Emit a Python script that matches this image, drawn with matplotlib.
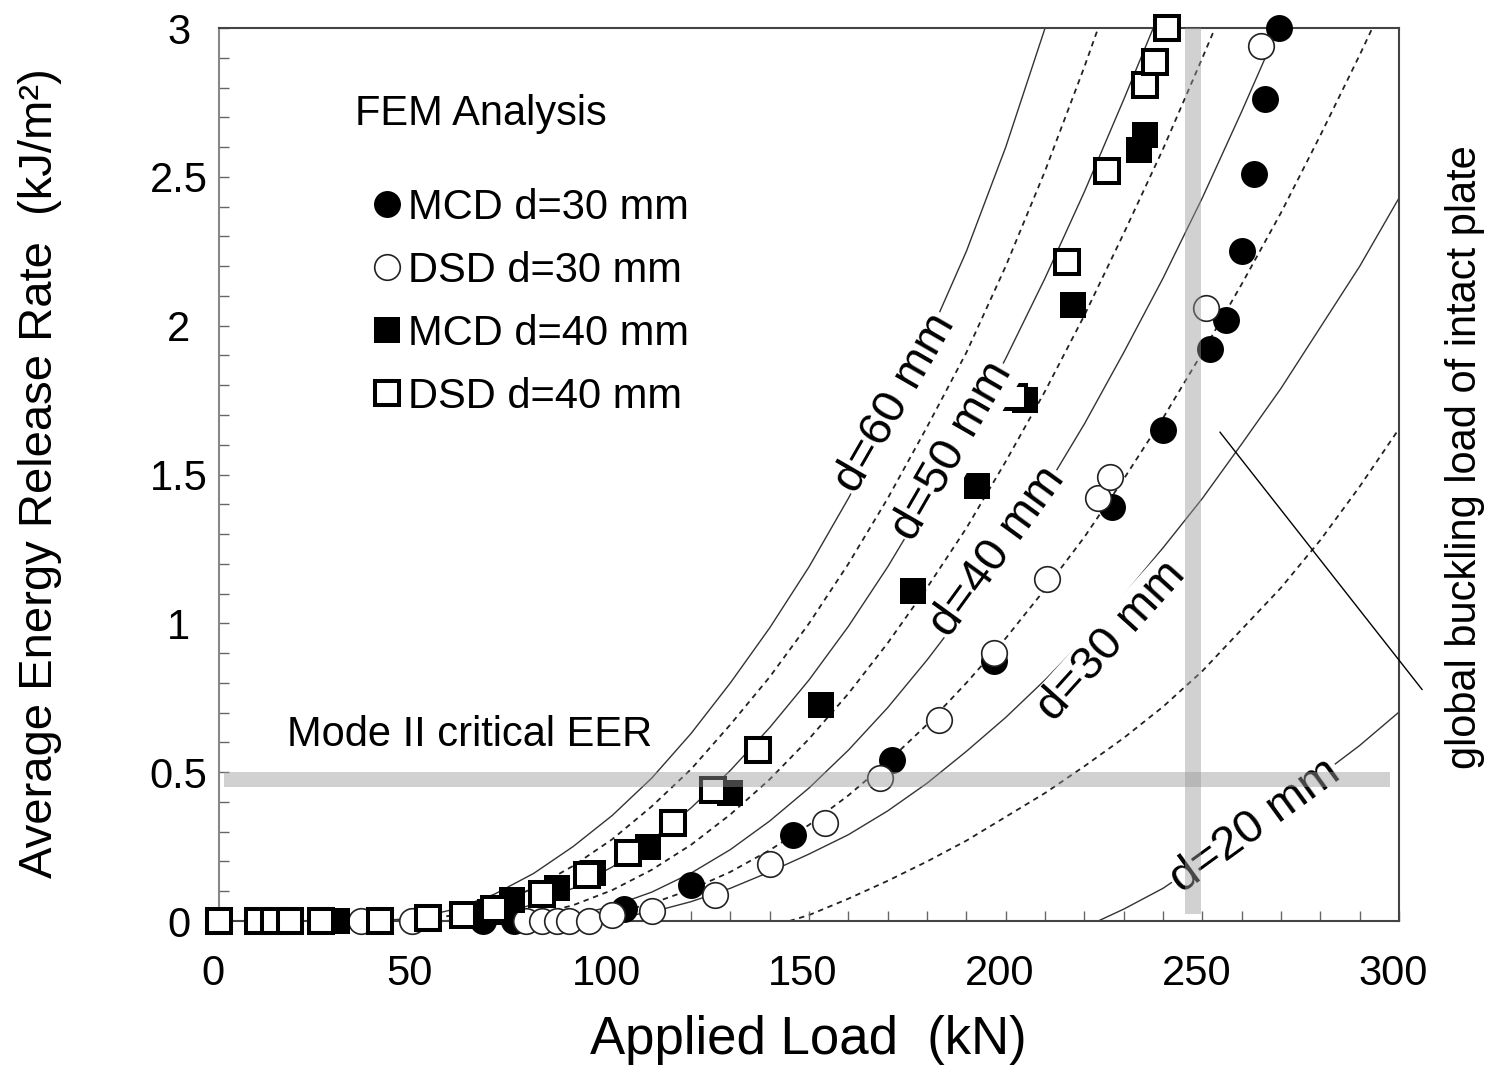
import matplotlib
matplotlib.use('Agg')
import matplotlib.pyplot as plt
import matplotlib.transforms as mtransforms
from matplotlib.lines import Line2D
from matplotlib.ticker import MultipleLocator

plt.rcParams['font.family'] = ['Liberation Sans', 'DejaVu Sans']

# FEM results: applied load (kN) vs average energy release rate (kJ/m2)
mcd30_load = [67, 75, 103, 120, 146, 171, 197, 227, 240, 252, 256, 260, 263, 266, 269.5]
mcd30_eer = [0, 0, 0.04, 0.12, 0.29, 0.54, 0.875, 1.39, 1.65, 1.92, 2.02, 2.25, 2.51, 2.76, 3.0]

dsd30_load = [36, 49, 78, 82, 86, 89, 94, 100, 110, 126, 140, 154, 168, 183, 197,
              210.5, 223.5, 226.5, 251, 265]
dsd30_eer = [0, 0, 0, 0, 0, 0, 0, 0.02, 0.035, 0.086, 0.19, 0.33, 0.48, 0.674, 0.90,
             1.15, 1.42, 1.49, 2.06, 2.94]

mcd40_load = [30, 69, 74.5, 86, 95, 109, 130, 153, 176.5, 192.7, 205, 217, 234, 235.5]
mcd40_eer = [0, 0.03, 0.07, 0.11, 0.16, 0.25, 0.43, 0.725, 1.11, 1.46, 1.75, 2.07, 2.59, 2.64]

dsd40_load = [0, 10, 14, 18, 26, 41, 53, 62, 70, 82, 93.6, 104, 115.3, 125.6, 137,
              202, 215.6, 225.8, 235.4, 238, 241]
dsd40_eer = [0, 0, 0, 0, 0, 0, 0.01, 0.02, 0.04, 0.09, 0.153, 0.227, 0.33, 0.44, 0.574,
             1.76, 2.215, 2.52, 2.81, 2.885, 3.0]

# analytical curves for delamination diameter d
d60_load = [40, 50, 60, 70, 80, 90, 100, 110, 120, 130, 140, 150, 160, 170, 180, 190, 200, 210]
d60_eer = [0, 0.01, 0.04, 0.09, 0.16, 0.25, 0.355, 0.48, 0.63, 0.80, 0.985, 1.19, 1.42,
           1.67, 1.95, 2.25, 2.6, 3.0]
d55_load = [45, 50, 60, 70, 80, 90, 100, 110, 120, 130, 140, 150, 160, 170, 180, 190, 200,
            210, 220, 223.5]
d55_eer = [0, 0.002, 0.02, 0.057, 0.11, 0.185, 0.275, 0.385, 0.51, 0.66, 0.82, 1.0, 1.2,
           1.42, 1.66, 1.91, 2.2, 2.52, 2.87, 3.0]
d50_load = [55, 60, 70, 80, 90, 100, 110, 120, 130, 140, 150, 160, 170, 180, 190, 200, 210,
            220, 230, 237.5]
d50_eer = [0, 0.002, 0.02, 0.056, 0.11, 0.182, 0.272, 0.38, 0.506, 0.65, 0.81, 0.99, 1.19,
           1.41, 1.64, 1.89, 2.16, 2.45, 2.76, 3.0]
d45_load = [65, 70, 80, 90, 100, 110, 120, 130, 140, 150, 160, 170, 180, 190, 200, 210, 220,
            230, 240, 250, 253.2]
d45_eer = [0, 0.002, 0.019, 0.053, 0.104, 0.172, 0.256, 0.358, 0.476, 0.612, 0.764, 0.934,
           1.12, 1.32, 1.544, 1.78, 2.035, 2.31, 2.594, 2.9, 3.0]
d40_load = [75, 80, 90, 100, 110, 120, 130, 140, 150, 160, 170, 180, 190, 200, 210, 220, 230,
            240, 250, 260, 269.3]
d40_eer = [0, 0.002, 0.018, 0.05, 0.097, 0.161, 0.24, 0.336, 0.447, 0.574, 0.717, 0.877,
           1.05, 1.242, 1.45, 1.67, 1.91, 2.16, 2.43, 2.72, 3.0]
d35_load = [80, 90, 100, 110, 120, 130, 140, 150, 160, 170, 180, 190, 200, 210, 220, 230, 240,
            250, 260, 270, 280, 290, 293.2]
d35_eer = [0, 0.007, 0.026, 0.059, 0.106, 0.165, 0.238, 0.323, 0.422, 0.535, 0.66, 0.8, 0.95,
           1.115, 1.29, 1.485, 1.69, 1.91, 2.14, 2.38, 2.64, 2.91, 3.0]
d30_load = [87, 90, 100, 110, 120, 130, 140, 150, 160, 170, 180, 190, 200, 210, 220, 230, 240,
            250, 260, 270, 280, 290, 299.8]
d30_eer = [0, 0.001, 0.01, 0.03, 0.065, 0.11, 0.165, 0.225, 0.29, 0.37, 0.463, 0.57, 0.684,
           0.81, 0.947, 1.095, 1.254, 1.42, 1.603, 1.79, 1.995, 2.2, 2.425]
d25_load = [145, 150, 160, 170, 180, 190, 200, 210, 220, 230, 240, 250, 260, 270, 280, 290,
            299.8]
d25_eer = [0, 0.02, 0.075, 0.135, 0.2, 0.27, 0.35, 0.43, 0.52, 0.615, 0.72, 0.84, 0.98, 1.12,
           1.28, 1.46, 1.65]
d20_load = [223.5, 230, 240, 250, 260, 270, 280, 290, 299.8]
d20_eer = [0, 0.04, 0.11, 0.2, 0.29, 0.39, 0.49, 0.59, 0.70]

mode2_eer = (0.45, 0.50)
buckling_load = (245.6, 249.7)

fig = plt.figure(figsize=(14.9, 10.65), dpi=100)
ax = fig.add_axes([0.147, 0.1352, 0.792, 0.8385])

solid_kw = dict(color='#333333', lw=1.0, ls='-', zorder=1)
dash_kw = dict(color='#222222', lw=1.3, ls=(0, (3, 2.6)), zorder=1)
ax.plot(d60_load, d60_eer, **solid_kw)
ax.plot(d55_load, d55_eer, **dash_kw)
ax.plot(d50_load, d50_eer, **solid_kw)
ax.plot(d45_load, d45_eer, **dash_kw)
ax.plot(d40_load, d40_eer, **solid_kw)
ax.plot(d35_load, d35_eer, **dash_kw)
ax.plot(d30_load, d30_eer, **solid_kw)
ax.plot(d25_load, d25_eer, **dash_kw)
ax.plot(d20_load, d20_eer, **solid_kw)

# curve labels (white box hides the curve underneath)
lab_kw = dict(fontsize=34, ha='center', va='center', rotation_mode='anchor', zorder=4,
              bbox=dict(facecolor='white', edgecolor='none', pad=1))
ax.text(172, 1.74, 'd=60 mm', rotation=60, **lab_kw)
ax.text(186.5, 1.58, 'd=50 mm', rotation=60, **lab_kw)
ax.text(198, 1.24, 'd=40 mm', rotation=54, **lab_kw)
ax.text(227, 0.94, 'd=30 mm', rotation=48, **lab_kw)
ax.text(263.4, 0.32, 'd=20 mm', rotation=36, **lab_kw)

ms_c = 19.4
ax.plot(mcd30_load, mcd30_eer, ls='none', marker='o', ms=ms_c, mfc='black', mec='black',
        mew=0, zorder=3, clip_on=False)
ax.plot(dsd30_load, dsd30_eer, ls='none', marker='o', ms=ms_c - 1, mfc='white', mec='#222222',
        mew=1.2, zorder=3, clip_on=False)
ax.plot(mcd40_load, mcd40_eer, ls='none', marker='s', ms=19.4, mfc='black', mec='black',
        mew=0, zorder=3, clip_on=False)
ax.plot(dsd40_load, dsd40_eer, ls='none', marker='s', ms=17.3, mfc='white', mec='black',
        mew=2.9, zorder=3, clip_on=False)

# critical EER and global buckling bands
ax.axhspan(mode2_eer[0], mode2_eer[1], xmin=0.004, xmax=0.992, color='#999999', alpha=0.45,
           lw=0, zorder=5)
ax.axvspan(buckling_load[0], buckling_load[1], ymin=0.008, ymax=1.0, color='#999999',
           alpha=0.45, lw=0, zorder=5)

ax.text(17.3, 0.625, 'Mode II critical EER', fontsize=30, ha='left', va='center')
ax.text(34.6, 2.71, 'FEM Analysis', fontsize=30, ha='left', va='center')
ax.text(1.056, 0.52, 'global buckling load of intact plate', fontsize=30, rotation=90,
        ha='center', va='center', transform=ax.transAxes)
ax.annotate('', xy=(254, 1.65), xytext=(306.3, 0.77),
            arrowprops=dict(arrowstyle='-', lw=1.0, color='black'), annotation_clip=False)

handles = [
    Line2D([], [], ls='none', marker='o', ms=ms_c, mfc='black', mec='black', mew=0),
    Line2D([], [], ls='none', marker='o', ms=ms_c - 1, mfc='white', mec='#222222', mew=1.2),
    Line2D([], [], ls='none', marker='s', ms=19.4, mfc='black', mec='black', mew=0),
    Line2D([], [], ls='none', marker='s', ms=17.3, mfc='white', mec='black', mew=2.9),
]
labels = ['MCD d=30 mm', 'DSD d=30 mm', 'MCD d=40 mm', 'DSD d=40 mm']
ax.legend(handles, labels, loc='upper left', bbox_to_anchor=(0.1318, 0.821), frameon=False,
          fontsize=30, handlelength=0.6, handletextpad=0.2, labelspacing=0.55,
          borderpad=0, borderaxespad=0)

ax.set_xlim(0, 300)
ax.set_ylim(0, 3)
ax.xaxis.set_major_locator(MultipleLocator(50))
ax.xaxis.set_minor_locator(MultipleLocator(10))
ax.yaxis.set_minor_locator(MultipleLocator(0.1))
ax.set_yticks([0, 0.5, 1, 1.5, 2, 2.5, 3])
ax.set_yticklabels(['0', '0.5', '1', '1.5', '2', '2.5', '3'])
ax.tick_params(axis='both', which='both', direction='in', length=7, width=1, color='#666666')
ax.tick_params(axis='x', which='major', labelsize=30, pad=24)
ax.tick_params(axis='y', which='major', labelsize=30, pad=29)
for lab in ax.get_yticklabels():
    lab.set_horizontalalignment('center')
# x tick labels sit a few pixels left of their ticks in the original
shift = mtransforms.ScaledTranslation(-0.06, 0, fig.dpi_scale_trans)
for lab in ax.get_xticklabels():
    lab.set_transform(lab.get_transform() + shift)

for side in ['top', 'right', 'bottom']:
    ax.spines[side].set_color('#444444')
    ax.spines[side].set_linewidth(1.5)
ax.spines['left'].set_color('#888888')
ax.spines['left'].set_linewidth(1.5)

ax.set_xlabel('Applied Load  (kN)', fontsize=38)
ax.set_ylabel('Average Energy Release Rate  (kJ/m²)', fontsize=34)
ax.xaxis.set_label_coords(0.4996, -0.105)
ax.yaxis.set_label_coords(-0.133, 0.5017)

fig.savefig('out.png', dpi=100, facecolor='white')
